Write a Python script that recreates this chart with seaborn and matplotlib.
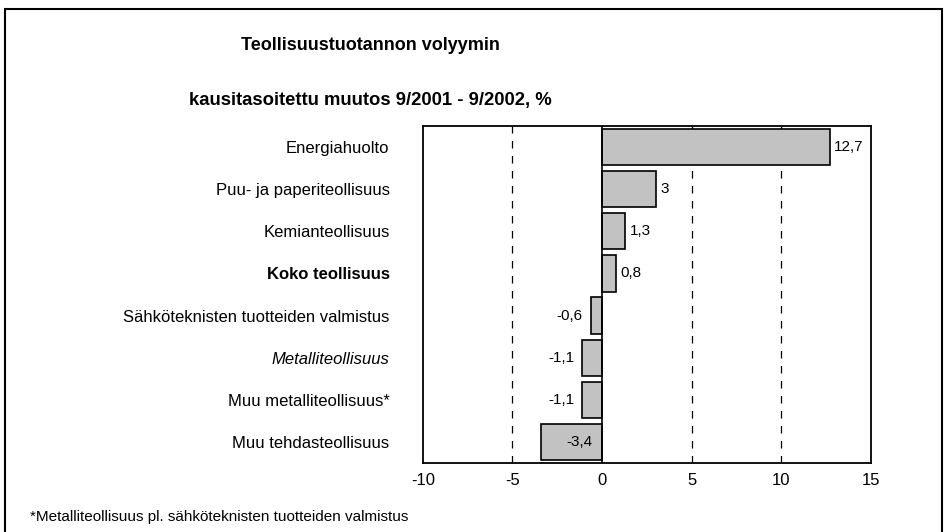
import seaborn as sns
import matplotlib.pyplot as plt
import pandas as pd
from matplotlib.patches import Rectangle

# values
categories = [
    "Energiahuolto",
    "Puu- ja paperiteollisuus",
    "Kemianteollisuus",
    "Koko teollisuus",
    "Sähköteknisten tuotteiden valmistus",
    "Metalliteollisuus",
    "Muu metalliteollisuus*",
    "Muu tehdasteollisuus",
]
changes = [12.7, 3.0, 1.3, 0.8, -0.6, -1.1, -1.1, -3.4]
x_ticks = [-10, -5, 0, 5, 10, 15]
grid_at = [-5, 5, 10]

title1 = "Teollisuustuotannon volyymin"
title2 = "kausitasoitettu muutos 9/2001 - 9/2002, %"
footnote = "*Metalliteollisuus pl. sähköteknisten tuotteiden valmistus"


def fmt(v):
    s = f"{v:.1f}".replace(".", ",")
    return s[:-2] if s.endswith(",0") else s


def main():
    sns.set_theme(style="white")
    plt.rcParams["font.family"] = ["Liberation Sans", "DejaVu Sans"]
    plt.rcParams["text.color"] = "black"
    plt.rcParams["xtick.color"] = "black"
    plt.rcParams["ytick.color"] = "black"

    df = pd.DataFrame({"toimiala": categories, "muutos": changes})

    fig = plt.figure(figsize=(9.44, 5.32), dpi=100)
    ax = fig.add_axes([0.448, 0.1297, 0.4745, 0.6335])

    sns.barplot(data=df, x="muutos", y="toimiala", orient="h", ax=ax,
                color="#c2c2c2", edgecolor="black", linewidth=1.2,
                width=0.86, saturation=1)

    ax.set_xlim(x_ticks[0], x_ticks[-1])
    ax.set_xticks(x_ticks)
    ax.set_xticklabels([str(t) for t in x_ticks], fontsize=12)
    ax.set_xlabel("")
    ax.set_ylabel("")
    ax.tick_params(axis="x", length=0, pad=7)
    ax.tick_params(axis="y", length=0, pad=24)
    for lab in ax.get_yticklabels():
        lab.set_fontsize(12)
        if lab.get_text() == "Koko teollisuus":
            lab.set_fontweight("bold")
        if lab.get_text() == "Metalliteollisuus":
            lab.set_fontstyle("italic")

    for g in grid_at:
        ax.axvline(g, color="black", lw=0.9, ls=(0, (6, 6)), zorder=0)
    ax.axvline(0, color="black", lw=1.2, zorder=3)

    for sp in ax.spines.values():
        sp.set_visible(True)
        sp.set_color("black")
        sp.set_linewidth(1.3)

    # value labels next to the bar ends
    for i, v in enumerate(changes):
        if v >= 0:
            ax.annotate(fmt(v), (v, i), xytext=(3, 0), textcoords="offset points",
                        ha="left", va="center", fontsize=11)
        elif v < -3:
            ax.annotate(fmt(v), (0, i), xytext=(-7, 0), textcoords="offset points",
                        ha="right", va="center", fontsize=11)
        else:
            ax.annotate(fmt(v), (v, i), xytext=(-6, 0), textcoords="offset points",
                        ha="right", va="center", fontsize=11)

    fig.text(0.392, 0.915, title1, ha="center", va="center",
             fontsize=13, fontweight="bold")
    fig.text(0.392, 0.812, title2, ha="center", va="center",
             fontsize=13.3, fontweight="bold")
    fig.text(0.032, 0.028, footnote, ha="left", va="center", fontsize=11)

    fig.add_artist(Rectangle((0.005, -0.05), 0.993, 1.033, transform=fig.transFigure,
                             fill=False, edgecolor="black", lw=1.5))

    fig.savefig("out.png", dpi=100)


main()
